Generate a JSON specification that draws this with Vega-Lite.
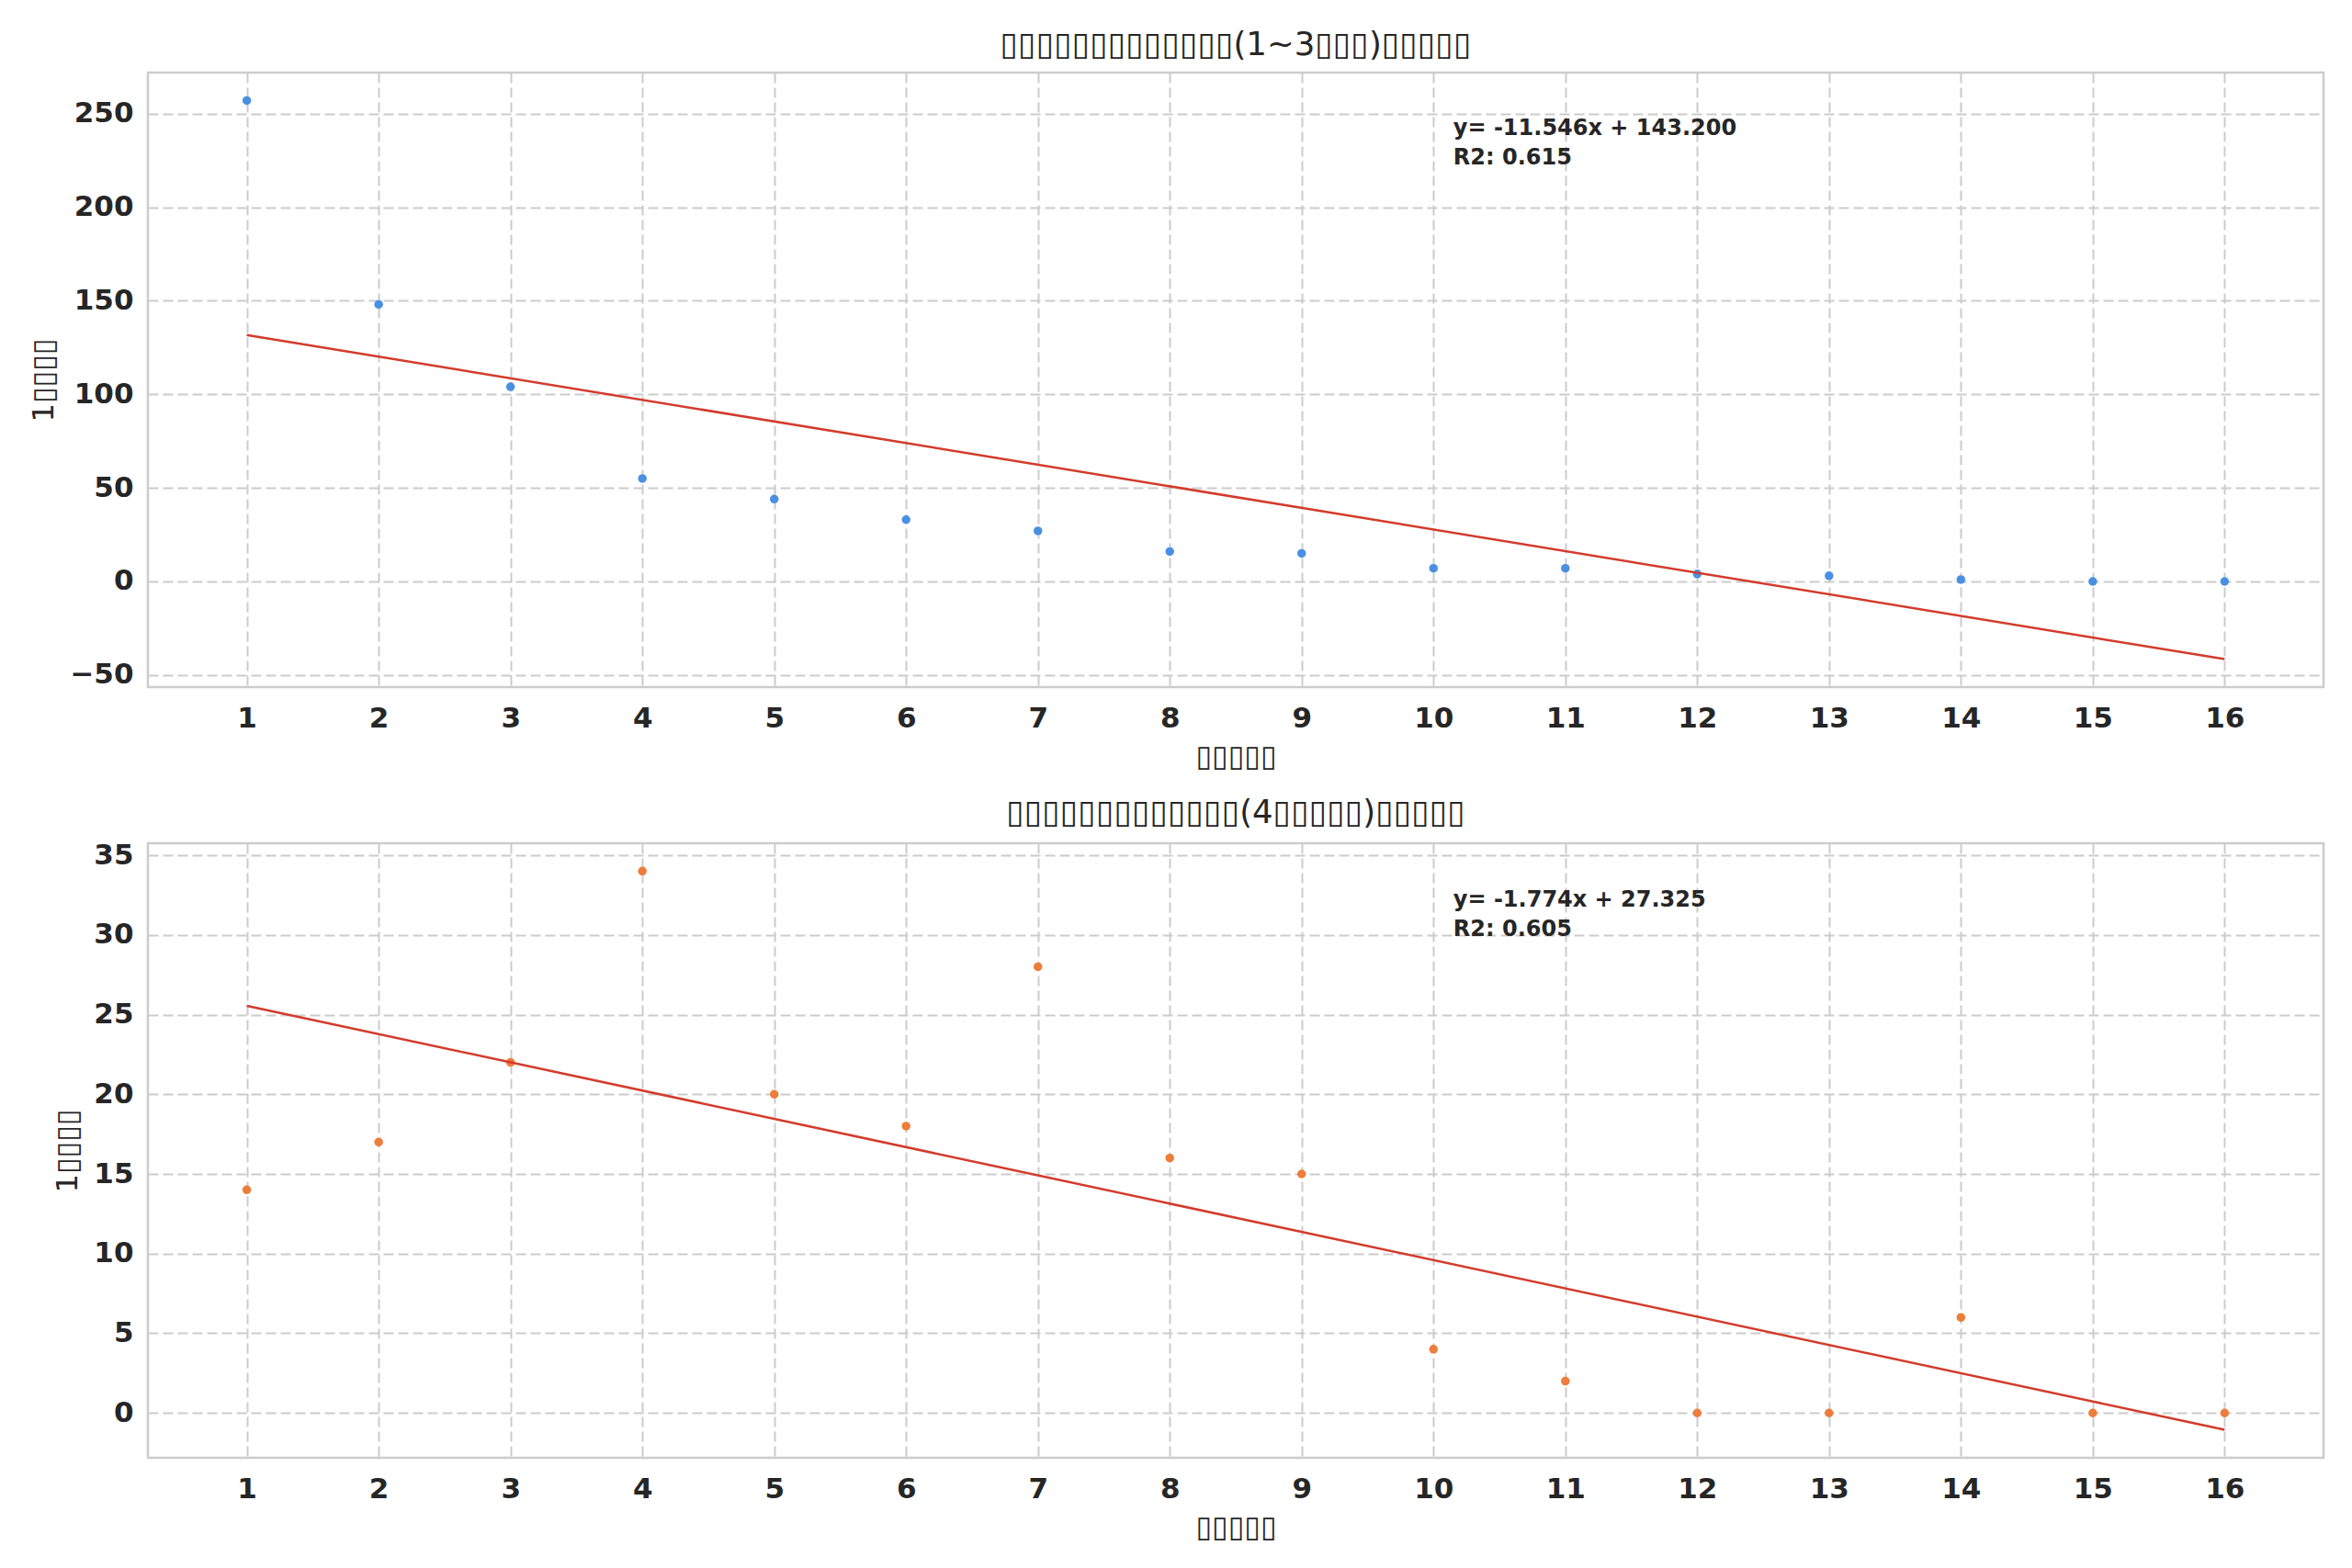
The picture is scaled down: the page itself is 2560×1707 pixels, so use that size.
{
  "$schema": "https://vega.github.io/schema/vega-lite/v6.json",
  "background": "white",
  "padding": {"left": 30, "top": 30, "right": 29, "bottom": 10},
  "spacing": 25,
  "datasets": {
    "young": [
      {"month": 1, "count": 257}, {"month": 2, "count": 148}, {"month": 3, "count": 104}, {"month": 4, "count": 55},
      {"month": 5, "count": 44}, {"month": 6, "count": 33}, {"month": 7, "count": 27}, {"month": 8, "count": 16},
      {"month": 9, "count": 15}, {"month": 10, "count": 7}, {"month": 11, "count": 7}, {"month": 12, "count": 4},
      {"month": 13, "count": 3}, {"month": 14, "count": 1}, {"month": 15, "count": 0}, {"month": 16, "count": 0}
    ],
    "older": [
      {"month": 1, "count": 14}, {"month": 2, "count": 17}, {"month": 3, "count": 22}, {"month": 4, "count": 34},
      {"month": 5, "count": 20}, {"month": 6, "count": 18}, {"month": 7, "count": 28}, {"month": 8, "count": 16},
      {"month": 9, "count": 15}, {"month": 10, "count": 4}, {"month": 11, "count": 2}, {"month": 12, "count": 0},
      {"month": 13, "count": 0}, {"month": 14, "count": 6}, {"month": 15, "count": 0}, {"month": 16, "count": 0}
    ]
  },
  "config": {
    "font": "DejaVu Sans",
    "view": {"stroke": "#cccccc", "strokeWidth": 2.5},
    "axis": {
      "grid": true,
      "gridColor": "#cccccc",
      "gridDash": [11, 5],
      "gridWidth": 2,
      "domain": false,
      "ticks": false,
      "labelFont": "DejaVu Sans",
      "labelFontWeight": "bold",
      "labelFontSize": 31,
      "labelColor": "#262626",
      "labelPadding": 16,
      "titleFont": "DejaVu Sans",
      "titleFontWeight": "normal",
      "titleFontSize": 32,
      "titleColor": "#262626",
      "titlePadding": 11
    },
    "axisX": {"labelPadding": 19},
    "title": {"font": "DejaVu Sans", "fontSize": 35.5, "fontWeight": "normal", "color": "#262626", "offset": 12}
  },
  "vconcat": [
    {
      "title": "▯▯▯▯▯▯▯▯▯▯▯▯▯(1~3▯▯▯)▯▯▯▯▯",
      "width": 2368,
      "height": 669,
      "data": {"name": "young"},
      "layer": [
        {
          "mark": {"type": "circle", "size": 90, "color": "#4A90E2", "opacity": 1},
          "encoding": {
            "x": {"field": "month", "type": "quantitative", "title": "▯▯▯▯▯",
                  "scale": {"domain": [0.25, 16.75], "nice": false, "zero": false},
                  "axis": {"values": [1, 2, 3, 4, 5, 6, 7, 8, 9, 10, 11, 12, 13, 14, 15, 16], "format": "d"}},
            "y": {"field": "count", "type": "quantitative", "title": "1▯▯▯▯",
                  "scale": {"domain": [-56.46, 271.93], "nice": false, "zero": false},
                  "axis": {"values": [-50, 0, 50, 100, 150, 200, 250]}}
          }
        },
        {
          "transform": [{"regression": "count", "on": "month", "extent": [1, 16]}],
          "mark": {"type": "line", "color": "#D33B2C", "strokeWidth": 2.5},
          "encoding": {
            "x": {"field": "month", "type": "quantitative"},
            "y": {"field": "count", "type": "quantitative"}
          }
        },
        {
          "data": {"values": [{"note": "fit"}]},
          "mark": {"type": "text", "align": "left", "baseline": "top", "font": "DejaVu Sans", "fontWeight": "bold", "fontSize": 24, "lineHeight": 32, "color": "#262626"},
          "encoding": {
            "x": {"datum": 10.15},
            "y": {"datum": 248},
            "text": {"value": ["y= -11.546x + 143.200", "R2: 0.615"]}
          }
        }
      ]
    },
    {
      "title": "▯▯▯▯▯▯▯▯▯▯▯▯▯(4▯▯▯▯▯)▯▯▯▯▯",
      "width": 2368,
      "height": 669,
      "data": {"name": "older"},
      "layer": [
        {
          "mark": {"type": "circle", "size": 90, "color": "#ED7D3A", "opacity": 1},
          "encoding": {
            "x": {"field": "month", "type": "quantitative", "title": "▯▯▯▯▯",
                  "scale": {"domain": [0.25, 16.75], "nice": false, "zero": false},
                  "axis": {"values": [1, 2, 3, 4, 5, 6, 7, 8, 9, 10, 11, 12, 13, 14, 15, 16], "format": "d"}},
            "y": {"field": "count", "type": "quantitative", "title": "1▯▯▯▯",
                  "scale": {"domain": [-2.81, 35.75], "nice": false, "zero": false},
                  "axis": {"values": [0, 5, 10, 15, 20, 25, 30, 35]}}
          }
        },
        {
          "transform": [{"regression": "count", "on": "month", "extent": [1, 16]}],
          "mark": {"type": "line", "color": "#D33B2C", "strokeWidth": 2.5},
          "encoding": {
            "x": {"field": "month", "type": "quantitative"},
            "y": {"field": "count", "type": "quantitative"}
          }
        },
        {
          "data": {"values": [{"note": "fit"}]},
          "mark": {"type": "text", "align": "left", "baseline": "top", "font": "DejaVu Sans", "fontWeight": "bold", "fontSize": 24, "lineHeight": 32, "color": "#262626"},
          "encoding": {
            "x": {"datum": 10.15},
            "y": {"datum": 32.85},
            "text": {"value": ["y= -1.774x + 27.325", "R2: 0.605"]}
          }
        }
      ]
    }
  ]
}
